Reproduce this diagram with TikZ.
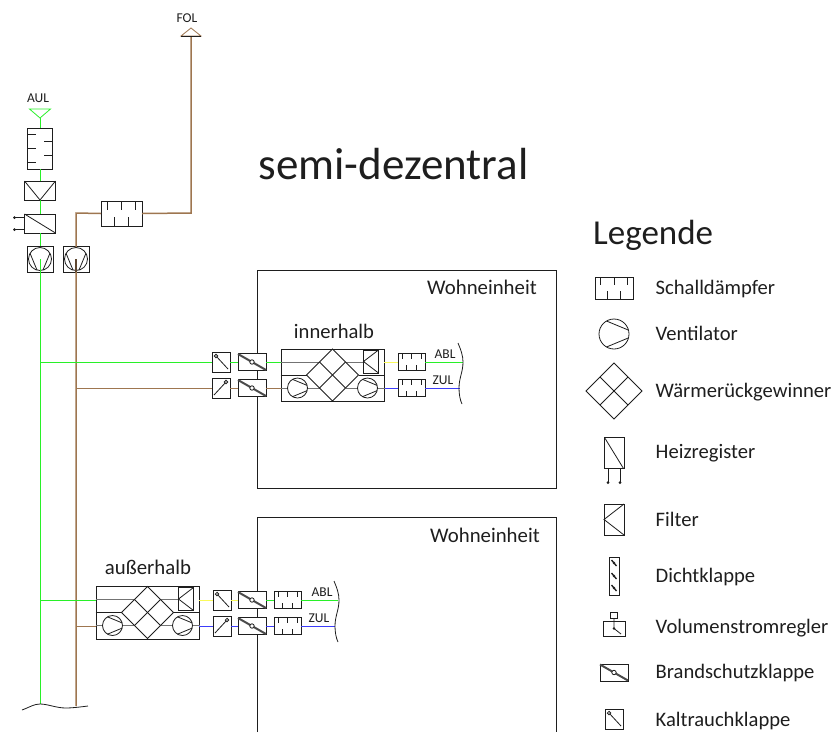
\documentclass[tikz,border=0pt]{standalone}
\usepackage{fontspec}
\setmainfont{Carlito}
\definecolor{lineblack}{RGB}{30,30,30}
\definecolor{airgreen}{RGB}{40,240,40}
\definecolor{airbrown}{RGB}{158,118,80}
\definecolor{airblue}{RGB}{60,60,250}
\definecolor{airyellow}{RGB}{250,250,90}
\tikzset{
  box/.style={draw=lineblack, fill=white, inner sep=0pt, outer sep=0pt},
  txt/.style={inner sep=0pt, text=lineblack, anchor=base, font=\fontsize{#1}{#1}\selectfont},
  leg/.style={txt=20.6, anchor=base west},
  pipe/.style={line width=1.5pt},
  flat/.style={line width=1pt},
  sym/.style={draw=lineblack, line width=0.8pt},
  pics/sdpic/.style={code={
    \foreach \a in {-0.35,0,0.35} \draw[sym] (\a,-0.5) -- (\a,-0.15);
    \foreach \a in {-0.18,0.18} \draw[sym] (\a,0.5) -- (\a,0.15);
  }},
  pics/fanpic/.style={code={
    \draw[sym, fill=white] (0,0) circle (1);
    \draw[sym] (120:1) -- (15:1);
    \draw[sym] (-120:1) -- (-15:1);
  }},
  pics/filterpic/.style={code={
    \draw[sym] (0.5,-0.5) -- (-0.5,0) -- (0.5,0.5);
  }},
  pics/heizpic/.style={code={
    \draw[sym] (-15.5,-9.5) -- (15.5,9.5);
    \draw[sym] (-15.5,-6) -- (-15.5-#1,-6);
    \draw[sym] (-15.5,6) -- (-15.5-#1,6);
    \fill[lineblack] (-15.5-#1,-6) circle (1.5);
    \fill[lineblack] (-15.5-#1,6) circle (1.5);
  }},
  pics/wrgpic/.style={code={
    \draw[sym] (-1,0) -- (0,-1) -- (1,0) -- (0,1) -- cycle;
    \draw[sym] (-0.5,-0.5) -- (0.5,0.5);
    \draw[sym] (0.5,-0.5) -- (-0.5,0.5);
  }},
  pics/klpic/.style={code={
    \draw[sym] (-5,-6) -- (7,7);
    \draw[sym, fill=white] (-5,-6) circle (1.7);
  }},
  pics/bskpic/.style={code={
    \draw[draw=lineblack!80, line width=2pt] (-14,-8) -- (14,8);
    \draw[sym, fill=white] (0,0) circle (2.2);
  }},
  pics/dkpic/.style={code={
    \draw[draw=lineblack, line width=1.3pt] (-2.5,-3) -- (2.5,3);
    \fill[lineblack] (0,0) circle (1.4);
  }},
  pics/endpic/.style={code={
    \draw[sym] (-3,-31) .. controls (0,-24) and (2,-18) .. (2,-12)
      .. controls (2,-2) and (-2,4) .. (-2,14)
      .. controls (-2,20) and (-1,26) .. (1,30);
  }},
  pics/unitpic/.style={code={
    \draw[flat, black!55] (-52,-13) -- (-13,-13);
    \draw[flat, black!55] (13,-13) -- (31,-13);
    \draw[sym] (-52,0) -- (-26,0);
    \draw[sym] (26,0) -- (52,0);
    \draw[flat, black!55] (-52,13) -- (-13,13);
    \draw[flat, black!55] (13,13) -- (52,13);
    \pic[scale=26] at (0,0) {wrgpic};
    \pic[scale=10] at (-35,13) {fanpic};
    \pic[scale=10] at (35,13) {fanpic};
    \draw[sym, fill=white] (31,-25) rectangle (46,-2);
    \pic[xscale=15,yscale=23] at (38.5,-13.5) {filterpic};
  }},
}
\begin{document}
\begin{tikzpicture}[x=1pt,y=-1pt]
\useasboundingbox (0,0) rectangle (837,732);

\draw[sym] (257,270) rectangle (556,488);
\draw[sym] (257,732) -- (257,517) -- (556,517) -- (556,732);

\node[txt=45] (title) at (393.5,179) {semi-dezentral};
\node[txt=35, anchor=base west] (legtitle) at (593,244) {Legende};
\node[txt=20.8] (wohnA) at (482,294) {Wohneinheit};
\node[txt=20.8] (wohnB) at (485,542) {Wohneinheit};
\node[txt=20.6] (innen) at (334,338) {innerhalb};
\node[txt=20.8] (aussen) at (148,574) {außerhalb};
\node[txt=13.5] (fol) at (187,22) {FOL};
\node[txt=13.5] (aul) at (38,102) {AUL};
\node[txt=13.5] (ablA) at (445,358) {ABL};
\node[txt=13.5] (zulA) at (443,384) {ZUL};
\node[txt=13.5] (ablB) at (322,596) {ABL};
\node[txt=13.5] (zulB) at (319,622) {ZUL};

\coordinate (folpt) at (191,36);
\coordinate (aulpt) at (40,118);
\coordinate (bendA) at (191,213);
\coordinate (bendB) at (76,213);
\coordinate (baseG) at (40,704);
\coordinate (baseB) at (76,706);
\coordinate (tapGA) at (40,362);
\coordinate (tapBA) at (76,388);
\coordinate (tapGB) at (40,600);
\coordinate (tapBB) at (76,626);
\coordinate (endGA) at (463,362);
\coordinate (endBA) at (460,388);
\coordinate (endGB) at (338,600);
\coordinate (endBB) at (335,626);

\node[box, minimum width=25pt, minimum height=41pt] (sdAul) at (40,148.5) {};
\node[box, minimum width=31pt, minimum height=19pt] (filterAul) at (40,190.5) {};
\node[box, minimum width=31pt, minimum height=19pt] (heizAul) at (40,223.5) {};
\node[box, minimum width=26pt, minimum height=26pt] (fanboxG) at (40,259) {};
\node[box, minimum width=26pt, minimum height=26pt] (fanboxB) at (76,259) {};
\node[box, minimum width=41pt, minimum height=25pt] (sdFol) at (121.5,213.5) {};

\node[box, minimum width=18pt, minimum height=20pt] (klGA) at (221,362) {};
\node[box, minimum width=18pt, minimum height=20pt] (klBA) at (221,388) {};
\node[box, minimum width=28pt, minimum height=17pt] (bskGA) at (252,362) {};
\node[box, minimum width=28pt, minimum height=17pt] (bskBA) at (252,388) {};
\node[box, minimum width=103pt, minimum height=52pt] (wrgA) at (332.5,375) {};
\node[box, minimum width=27pt, minimum height=17pt] (sdGA) at (411.5,362) {};
\node[box, minimum width=27pt, minimum height=17pt] (sdBA) at (411.5,388) {};

\node[box, minimum width=103pt, minimum height=53pt] (wrgB) at (147.5,612.5) {};
\node[box, minimum width=18pt, minimum height=20pt] (klGB) at (222,600) {};
\node[box, minimum width=18pt, minimum height=20pt] (klBB) at (222,626) {};
\node[box, minimum width=28pt, minimum height=17pt] (bskGB) at (252,600) {};
\node[box, minimum width=28pt, minimum height=17pt] (bskBB) at (252,626) {};
\node[box, minimum width=27pt, minimum height=17pt] (sdGB) at (287.5,600) {};
\node[box, minimum width=27pt, minimum height=17pt] (sdBB) at (287.5,626) {};

\draw[flat, airgreen] (aulpt) -- (sdAul.north);
\draw[flat, airgreen] (sdAul.south) -- (filterAul.north);
\draw[flat, airgreen] (filterAul.south) -- (heizAul.north);
\draw[flat, airgreen] (heizAul.south) -- (fanboxG.north);
\draw[flat, airgreen] (fanboxG.south) -- (baseG);
\draw[pipe, airbrown] (folpt) -- (bendA) -- (sdFol.east);
\draw[pipe, airbrown] (sdFol.west) -- (bendB) -- (baseB);

\draw[flat, airgreen] (tapGA) -- (klGA.west);
\draw[flat, airgreen] (klGA.east) -- (bskGA.west);
\draw[flat, airgreen] (bskGA.east) -- (wrgA.west |- bskGA.east);
\draw[flat, airyellow] (wrgA.east |- sdGA.west) -- (sdGA.west);
\draw[flat, airgreen] (sdGA.east) -- (endGA);
\draw[flat, airbrown] (tapBA) -- (klBA.west);
\draw[flat, airbrown] (klBA.east) -- (bskBA.west);
\draw[flat, airbrown] (bskBA.east) -- (wrgA.west |- bskBA.east);
\draw[flat, airblue] (wrgA.east |- sdBA.west) -- (sdBA.west);
\draw[flat, airblue] (sdBA.east) -- (endBA);

\draw[flat, airgreen] (tapGB) -- (wrgB.west |- tapGB);
\draw[flat, airyellow] (wrgB.east |- klGB.west) -- (klGB.west);
\draw[flat, airyellow] (klGB.east) -- (bskGB.west);
\draw[flat, airgreen] (bskGB.east) -- (sdGB.west);
\draw[flat, airgreen] (sdGB.east) -- (endGB);
\draw[flat, airbrown] (tapBB) -- (wrgB.west |- tapBB);
\draw[flat, airblue] (wrgB.east |- klBB.west) -- (klBB.west);
\draw[flat, airblue] (klBB.east) -- (bskBB.west);
\draw[flat, airblue] (bskBB.east) -- (sdBB.west);
\draw[flat, airblue] (sdBB.east) -- (endBB);

\draw[sym, draw=airgreen, fill=white] (29.5,109) -- (50.5,109) -- (aulpt) -- cycle;
\draw[sym, draw=airbrown, fill=white] (181,36) -- (201,36) -- (191,28) -- cycle;
\draw[sym] (181,36) -- (201,36);

\draw[sym] (22,710) .. controls (30,707) and (34,704) .. (baseG)
  .. controls (48,704) and (56,708) .. (66,708) .. controls (72,708) and (80,707) .. (88,706);

\pic[rotate=90,xscale=41,yscale=25] at (sdAul) {sdpic};
\pic[rotate=90,xscale=19,yscale=31] at (filterAul) {filterpic};
\pic at (heizAul) {heizpic=10};
\pic[rotate=-90,scale=11.5] at (fanboxG) {fanpic};
\pic[rotate=-90,scale=11.5] at (fanboxB) {fanpic};
\draw[flat, airgreen] (fanboxG.center) -- (fanboxG.south);
\draw[pipe, airbrown!60!black] (fanboxB.center) -- (fanboxB.south);
\pic[xscale=41,yscale=25] at (sdFol) {sdpic};

\pic at (klGA) {klpic};
\pic[xscale=-1] at (klBA) {klpic};
\pic at (bskGA) {bskpic};
\pic at (bskBA) {bskpic};
\pic at (wrgA) {unitpic};
\pic[xscale=27,yscale=17] at (sdGA) {sdpic};
\pic[xscale=27,yscale=17] at (sdBA) {sdpic};
\pic at (461,374) {endpic};

\pic at (wrgB) {unitpic};
\pic at (klGB) {klpic};
\pic[xscale=-1] at (klBB) {klpic};
\pic at (bskGB) {bskpic};
\pic at (bskBB) {bskpic};
\pic[xscale=27,yscale=17] at (sdGB) {sdpic};
\pic[xscale=27,yscale=17] at (sdBB) {sdpic};
\pic at (337,612) {endpic};

\node[box, minimum width=38pt, minimum height=22pt] (legSd) at (614,288) {};
\pic[xscale=38,yscale=22] at (legSd) {sdpic};
\coordinate (legFan) at (614,334);
\pic[scale=15] at (legFan) {fanpic};
\coordinate (legWrg) at (614,391);
\pic[scale=28] at (legWrg) {wrgpic};
\node[box, minimum width=20pt, minimum height=31pt] (legHeiz) at (614,453) {};
\pic[rotate=90,yscale=-1] at (legHeiz) {heizpic=14};
\node[box, minimum width=20pt, minimum height=31pt] (legFilter) at (614,519.5) {};
\pic[xscale=20,yscale=31] at (legFilter) {filterpic};
\node[box, minimum width=10pt, minimum height=38pt] (legDk) at (614,576) {};
\pic at (614,563) {dkpic};
\pic at (614,576) {dkpic};
\pic at (614,588) {dkpic};
\node[box, minimum width=22pt, minimum height=15pt] (legVsr) at (614,628.5) {};
\node[box, minimum width=7pt, minimum height=6pt] (legVsrTop) at (614,615) {};
\draw[sym] (legVsrTop.south) -- (legVsr.center) -- (621,634);
\fill[lineblack] (legVsr.center) circle (1.3);
\node[box, minimum width=28pt, minimum height=17pt] (legBsk) at (614,672.5) {};
\pic at (legBsk) {bskpic};
\node[box, minimum width=18pt, minimum height=20pt] (legKl) at (614,719) {};
\pic at (legKl) {klpic};

\node[leg] (txtSd) at (655.5,294) {Schalldämpfer};
\node[leg] (txtFan) at (655.5,340) {Ventilator};
\node[leg] (txtWrg) at (655.5,397) {Wärmerückgewinner};
\node[leg] (txtHeiz) at (655.5,458) {Heizregister};
\node[leg] (txtFilter) at (655.5,526) {Filter};
\node[leg] (txtDk) at (655.5,582) {Dichtklappe};
\node[leg] (txtVsr) at (655.5,633) {Volumenstromregler};
\node[leg] (txtBsk) at (655.5,678) {Brandschutzklappe};
\node[leg] (txtKl) at (655.5,726) {Kaltrauchklappe};
\end{tikzpicture}
\end{document}
